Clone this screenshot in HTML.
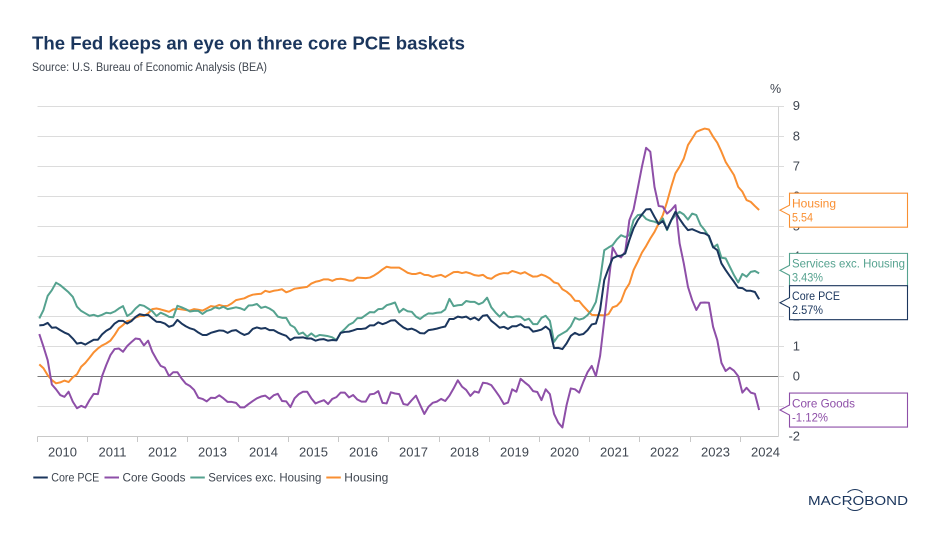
<!DOCTYPE html>
<html lang="en">
<head>
<meta charset="utf-8">
<title>The Fed keeps an eye on three core PCE baskets</title>
<style>
html,body{margin:0;padding:0;background:#fff;}
svg{display:block;font-family:"Liberation Sans",Arial,sans-serif;}
</style>
</head>
<body>
<svg id="chart" xmlns="http://www.w3.org/2000/svg" width="940" height="543" viewBox="0 0 940 543">
  <rect x="0" y="0" width="940" height="543" fill="#ffffff"/>
  <text x="32" y="49.5" font-size="18.5" font-weight="700" fill="#1b365d" textLength="433" lengthAdjust="spacingAndGlyphs">The Fed keeps an eye on three core PCE baskets</text>
  <text x="32" y="71" font-size="11.5" fill="#3f4650" textLength="235" lengthAdjust="spacingAndGlyphs">Source: U.S. Bureau of Economic Analysis (BEA)</text>
  <text x="770" y="93" font-size="12.5" fill="#3f4650">%</text>
  <g id="grid"></g>
  <g id="axes"></g>
  <g id="series"></g>
  <g id="callouts"></g>
  <g id="legend"></g>
  <g>
    <text x="808" y="505" font-size="12.8" fill="#1b365d" textLength="100" lengthAdjust="spacingAndGlyphs">MACROBOND</text>
    <path d="M847.5 492.6 A10.5 10.5 0 0 1 862.5 492.6" fill="none" stroke="#1b365d" stroke-width="1"/>
    <path d="M847.5 507.4 A10.5 10.5 0 0 0 862.5 507.4" fill="none" stroke="#1b365d" stroke-width="1"/>
  </g>
</svg>
<script>
const years = [2010,2011,2012,2013,2014,2015,2016,2017,2018,2019,2020,2021,2022,2023,2024];
const yTicks = [9,8,7,6,5,4,3,2,1,0,-1,-2];

const corePce = [
1.70,1.71,1.78,1.62,1.63,1.54,1.46,1.40,1.26,1.09,1.12,1.06,
1.14,1.22,1.22,1.40,1.52,1.60,1.76,1.85,1.85,1.76,1.84,1.98,
2.07,2.04,2.05,1.93,1.82,1.81,1.76,1.65,1.70,1.88,1.76,1.67,
1.60,1.56,1.46,1.38,1.38,1.45,1.49,1.53,1.52,1.45,1.52,1.54,
1.45,1.38,1.43,1.58,1.63,1.59,1.61,1.54,1.54,1.46,1.40,1.35,
1.21,1.29,1.29,1.30,1.26,1.26,1.19,1.23,1.24,1.19,1.21,1.20,
1.45,1.48,1.49,1.53,1.58,1.58,1.60,1.70,1.70,1.80,1.74,1.79,
1.86,1.87,1.74,1.63,1.56,1.59,1.53,1.44,1.43,1.54,1.56,1.59,
1.63,1.66,1.91,1.91,1.99,1.96,1.99,1.90,1.96,1.87,2.02,2.04,
1.85,1.74,1.62,1.65,1.58,1.67,1.67,1.74,1.64,1.63,1.49,1.52,
1.56,1.66,1.54,0.94,0.95,0.91,1.10,1.35,1.45,1.38,1.41,1.54,
1.73,1.76,2.21,3.21,3.59,3.93,4.00,4.02,4.09,4.54,4.93,5.20,
5.39,5.56,5.57,5.31,5.07,5.17,4.90,5.20,5.48,5.24,5.04,4.87,
4.90,4.84,4.78,4.76,4.68,4.31,4.20,3.76,3.54,3.34,3.15,2.95,
2.94,2.85,2.85,2.81,2.57];

const coreGoods = [
1.41,0.99,0.54,-0.27,-0.43,-0.62,-0.68,-0.51,-0.84,-1.06,-0.98,-1.04,
-0.79,-0.58,-0.59,0.01,0.38,0.71,0.91,0.93,0.82,1.01,1.14,1.26,
1.24,1.03,1.19,0.82,0.57,0.35,0.29,0.01,0.14,0.14,-0.07,-0.24,
-0.32,-0.45,-0.71,-0.75,-0.83,-0.71,-0.72,-0.63,-0.73,-0.85,-0.85,-0.88,
-1.03,-1.03,-0.92,-0.82,-0.73,-0.67,-0.64,-0.75,-0.63,-0.58,-0.82,-0.83,
-1.02,-0.73,-0.59,-0.51,-0.51,-0.73,-0.90,-0.84,-0.79,-0.92,-0.75,-0.69,
-0.54,-0.54,-0.70,-0.62,-0.77,-0.84,-0.84,-0.60,-0.58,-0.49,-0.88,-0.90,
-0.53,-0.57,-0.59,-0.92,-0.95,-0.79,-0.64,-0.95,-1.25,-1.01,-0.88,-0.84,
-0.75,-0.82,-0.64,-0.40,-0.13,-0.34,-0.45,-0.65,-0.50,-0.54,-0.21,-0.23,
-0.29,-0.48,-0.68,-0.92,-0.87,-0.43,-0.51,-0.08,-0.20,-0.31,-0.49,-0.52,
-0.79,-0.43,-0.59,-1.25,-1.54,-1.70,-0.95,-0.40,-0.43,-0.54,-0.18,0.14,
0.35,0.01,0.68,1.87,3.09,4.29,4.04,3.96,4.15,5.20,5.56,6.26,
6.98,7.61,7.48,6.31,5.67,5.65,5.42,5.54,5.70,4.43,3.76,2.98,
2.54,2.21,2.45,2.46,2.45,1.65,1.21,0.45,0.18,0.29,0.19,0.01,
-0.54,-0.38,-0.54,-0.58,-1.12];

const servicesExHousing = [
1.93,2.21,2.68,2.87,3.12,3.04,2.92,2.80,2.65,2.32,2.18,2.10,
2.02,2.05,2.00,2.05,2.12,2.10,2.16,2.26,2.34,2.01,2.10,2.26,
2.38,2.35,2.26,2.17,2.01,2.12,2.06,1.98,1.97,2.35,2.30,2.24,
2.16,2.18,2.18,2.08,2.18,2.22,2.30,2.26,2.32,2.24,2.27,2.30,
2.27,2.21,2.36,2.37,2.41,2.28,2.32,2.26,2.17,1.99,1.95,1.95,
1.71,1.63,1.41,1.46,1.32,1.43,1.32,1.38,1.36,1.34,1.30,1.21,
1.45,1.58,1.72,1.79,1.94,1.94,2.04,2.14,2.13,2.24,2.25,2.37,
2.41,2.46,2.13,2.25,2.17,2.15,1.99,1.91,2.02,2.10,2.09,2.12,
2.13,2.23,2.58,2.34,2.37,2.38,2.51,2.48,2.48,2.40,2.46,2.62,
2.30,2.13,1.99,2.14,1.99,1.97,2.00,1.99,1.87,1.92,1.74,1.74,
1.95,2.02,1.85,1.15,1.35,1.43,1.51,1.67,1.95,1.89,1.93,2.04,
2.21,2.48,3.21,4.20,4.29,4.37,4.56,4.70,4.64,4.70,5.20,5.37,
5.39,5.24,5.18,5.15,5.09,5.26,4.87,5.20,5.37,5.48,5.39,5.22,
5.42,5.37,5.04,4.87,4.65,4.29,4.39,3.95,3.93,3.65,3.37,3.13,
3.41,3.32,3.48,3.51,3.43];

const housing = [
0.40,0.27,0.04,-0.12,-0.23,-0.20,-0.14,-0.19,-0.03,0.07,0.32,0.45,
0.62,0.80,0.93,1.03,1.10,1.19,1.38,1.60,1.71,1.84,1.87,1.96,
2.01,2.01,2.10,2.24,2.26,2.23,2.19,2.15,2.23,2.25,2.23,2.21,
2.19,2.24,2.22,2.19,2.26,2.34,2.32,2.38,2.34,2.35,2.43,2.54,
2.57,2.60,2.67,2.72,2.74,2.75,2.85,2.81,2.85,2.87,2.90,2.80,
2.85,2.92,2.94,2.96,2.98,3.09,3.15,3.18,3.23,3.23,3.18,3.24,
3.25,3.23,3.19,3.19,3.29,3.28,3.27,3.29,3.36,3.45,3.56,3.65,
3.62,3.62,3.62,3.54,3.45,3.41,3.41,3.45,3.38,3.37,3.31,3.35,
3.38,3.31,3.39,3.47,3.48,3.44,3.47,3.43,3.37,3.35,3.38,3.28,
3.25,3.35,3.41,3.44,3.43,3.51,3.47,3.42,3.47,3.39,3.32,3.33,
3.39,3.34,3.26,3.13,3.09,2.90,2.82,2.70,2.52,2.51,2.34,2.19,
2.05,2.04,2.04,2.03,2.07,2.30,2.35,2.50,2.87,3.09,3.54,3.82,
4.12,4.34,4.59,4.81,5.09,5.37,5.81,6.31,6.76,6.98,7.25,7.70,
7.92,8.14,8.20,8.25,8.22,7.98,7.78,7.48,7.14,6.92,6.70,6.31,
6.15,5.87,5.81,5.67,5.54];

const NS = 'http://www.w3.org/2000/svg';
const NAVY = '#1b365d', PURPLE = '#8e4fa8', GREEN = '#55a28f', ORANGE = '#f98f32', TEXT = '#3f4650';

function xScale(monthIndex) { return 39.3 + 4.185 * monthIndex; }
function yScale(value) { return 376.4 - 30.04 * value; }
function yearTickX(year) { return Math.floor(xScale((year - 2010) * 12 - 0.48)) + 0.5; }
function gridY(value) { return Math.floor(yScale(value)) + 0.5; }

function make(tag, parent, attrs, content) {
  const el = document.createElementNS(NS, tag);
  for (const k in attrs) el.setAttribute(k, attrs[k]);
  if (content !== undefined) el.textContent = content;
  parent.appendChild(el);
  return el;
}

const gridG = document.getElementById('grid');
const axesG = document.getElementById('axes');
const seriesG = document.getElementById('series');
const calloutG = document.getElementById('callouts');
const legendG = document.getElementById('legend');
const plotLeft = yearTickX(2010), plotRight = 778.5;

yTicks.forEach(function (t) {
  const y = gridY(t);
  if (t !== -2) {
    const g = make('line', gridG, {x1: plotLeft, x2: 784, y1: y, y2: y, stroke: '#dcdcdc', 'stroke-width': 1});
    
    
  }
  if (t === 0) {
    const z = make('line', gridG, {x1: plotLeft, x2: plotRight, y1: y, y2: y, stroke: '#787878', 'stroke-width': 1});
    
    
  }
  const lab = make('text', axesG, {x: 800, y: yScale(t) + 4.2, 'text-anchor': 'end', 'font-size': 13, fill: TEXT}, String(t));
  
  
});

const yAxisLine = make('line', axesG, {x1: plotRight, x2: plotRight, y1: gridY(9), y2: gridY(-2), stroke: '#d4d4d4', 'stroke-width': 1});



const xAxisLine = make('line', axesG, {x1: plotLeft, x2: plotRight, y1: gridY(-2), y2: gridY(-2), stroke: '#c8c8c8', 'stroke-width': 1});



years.forEach(function (yr) {
  const tx = yearTickX(yr);
  const tick = make('line', axesG, {x1: tx, x2: tx, y1: gridY(-2), y2: gridY(-2) + 5.5, stroke: '#c8c8c8', 'stroke-width': 1});
  
  
  const lab = make('text', axesG, {x: tx + 25, y: 456.5, 'text-anchor': 'middle', 'font-size': 13, fill: TEXT}, String(yr));
  
  
});

function linePath(values) {
  return values.map(function (v, i) {
    return (i ? 'L' : 'M') + xScale(i).toFixed(2) + ' ' + yScale(v).toFixed(2);
  }).join('');
}

const housingLine = make('path', seriesG, {d: linePath(housing), fill: 'none', stroke: ORANGE, 'stroke-width': 2, 'stroke-linejoin': 'round'});



const servicesLine = make('path', seriesG, {d: linePath(servicesExHousing), fill: 'none', stroke: GREEN, 'stroke-width': 2, 'stroke-linejoin': 'round'});



const goodsLine = make('path', seriesG, {d: linePath(coreGoods), fill: 'none', stroke: PURPLE, 'stroke-width': 2, 'stroke-linejoin': 'round'});



const pceLine = make('path', seriesG, {d: linePath(corePce), fill: 'none', stroke: NAVY, 'stroke-width': 2, 'stroke-linejoin': 'round'});



function callout(name, label, labelWidth, values, suffix, valueWidth, color, shift) {
  const tipY = yScale(values[values.length - 1]) + shift;
  const top = tipY - 17, bottom = tipY + 17, l = 789.5, r = 907.5, tip = 780;
  const g = make('g', calloutG, {});
  
  
  const box = make('path', g, {
    d: 'M' + l + ' ' + top + 'H' + r + 'V' + bottom + 'H' + l + 'V' + (tipY + 5) + 'L' + tip + ' ' + tipY + 'L' + l + ' ' + (tipY - 5) + 'Z',
    fill: '#ffffff', stroke: color, 'stroke-width': 1.1
  });
  
  
  const t1 = make('text', g, {x: 792, y: tipY - 2.7, 'font-size': 12, fill: color, textLength: labelWidth, lengthAdjust: 'spacingAndGlyphs'}, label);
  
  
  const t2 = make('text', g, {x: 792, y: tipY + 11.3, 'font-size': 12, fill: color, textLength: valueWidth, lengthAdjust: 'spacingAndGlyphs'}, values[values.length - 1].toFixed(2) + suffix);
  
  
}
callout('housing-callout', 'Housing', 44, housing, '', 21, ORANGE, 0.2);
callout('services-callout', 'Services exc. Housing', 113, servicesExHousing, '%', 31, GREEN, -3);
callout('core-pce-callout', 'Core PCE', 48, corePce, '%', 31, NAVY, 3.5);
callout('core-goods-callout', 'Core Goods', 63, coreGoods, '%', 36, PURPLE, 0);

function legendEntry(name, label, color, x1, textWidth) {
  const g = make('g', legendG, {});
  
  
  const swatch = make('line', g, {x1: x1, x2: x1 + 14.5, y1: 477.5, y2: 477.5, stroke: color, 'stroke-width': 2});
  
  
  const t = make('text', g, {x: x1 + 18, y: 481.5, 'font-size': 12, fill: TEXT, textLength: textWidth, lengthAdjust: 'spacingAndGlyphs'}, label);
  
  
}
legendEntry('legend-core-pce', 'Core PCE', NAVY, 33.3, 48);
legendEntry('legend-core-goods', 'Core Goods', PURPLE, 104.5, 63);
legendEntry('legend-services', 'Services exc. Housing', GREEN, 190.3, 113);
legendEntry('legend-housing', 'Housing', ORANGE, 326.3, 44);
</script>
</body>
</html>
